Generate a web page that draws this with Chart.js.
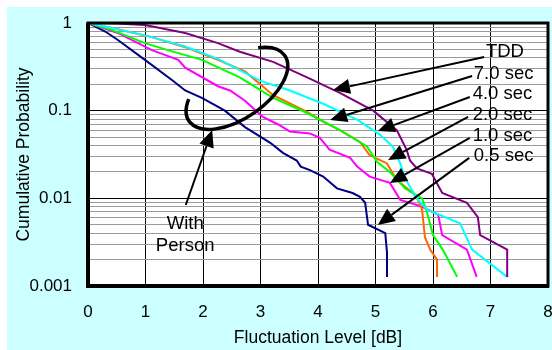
<!DOCTYPE html>
<html>
<head>
<meta charset="utf-8">
<script src="https://cdn.jsdelivr.net/npm/chart.js@4.4.1/dist/chart.umd.min.js"></script>
<style>
  html, body { margin: 0; padding: 0; background: #fff; }
  canvas { display: block; }
</style>
</head>
<body>
<canvas id="chart" width="552" height="350"></canvas>
<script>
// Curve data (x = fluctuation level dB, y = cumulative probability)
const tddX = [0, 0.5, 0.99, 1.69, 2.26, 2.64, 3.22, 3.81, 4.38, 4.96, 5.37, 5.43, 5.54, 5.6, 5.72, 5.98, 6.16, 6.59, 6.78, 6.82, 7.29, 7.29];
const tddY = [1, 0.99, 0.95, 0.77, 0.59, 0.47, 0.36, 0.24, 0.16, 0.10, 0.06, 0.05, 0.036, 0.027, 0.022, 0.019, 0.0115, 0.0089, 0.0061, 0.0038, 0.0026, 0.00127];

const sec7X = [0, 0.52, 1.11, 1.69, 2.26, 2.64, 2.99, 3.51, 4.09, 4.68, 5.08, 5.3, 5.43, 5.51, 5.63, 5.75, 5.9, 6.47, 6.68, 7.29];
const sec7Y = [1, 0.85, 0.69, 0.54, 0.39, 0.29, 0.22, 0.17, 0.12, 0.079, 0.053, 0.039, 0.025, 0.017, 0.0125, 0.0095, 0.0074, 0.0052, 0.0026, 0.00127];

const sec4X = [0, 0.52, 1.11, 1.69, 2.26, 2.73, 3.22, 3.81, 4.09, 4.38, 4.73, 4.9, 5.2, 5.37, 5.65, 5.74, 5.81, 5.86, 5.95, 6.07, 6.07];
const sec4Y = [1, 0.85, 0.69, 0.53, 0.38, 0.28, 0.15, 0.097, 0.075, 0.06, 0.044, 0.031, 0.025, 0.0162, 0.0115, 0.0096, 0.0074, 0.0036, 0.0026, 0.002, 0.00127];

const sec2X = [0, 0.42, 0.99, 1.39, 1.98, 2.64, 2.73, 3.22, 3.81, 4.38, 4.85, 5.03, 5.25, 5.43, 5.51, 5.81, 5.9, 6.0, 6.17, 6.42];
const sec2Y = [1, 0.83, 0.59, 0.49, 0.38, 0.24, 0.22, 0.14, 0.094, 0.06, 0.039, 0.026, 0.02, 0.015, 0.013, 0.01, 0.0068, 0.0038, 0.0026, 0.00127];

const sec1X = [0, 0.52, 1.11, 1.57, 1.69, 2.26, 2.47, 2.73, 3.04, 3.3, 3.51, 3.86, 4.03, 4.09, 4.2, 4.56, 4.68, 4.9, 5.25, 5.43, 5.72, 5.83, 6.09, 6.16, 6.59, 6.76];
const sec1Y = [1, 0.77, 0.49, 0.38, 0.31, 0.19, 0.17, 0.13, 0.085, 0.07, 0.058, 0.055, 0.049, 0.044, 0.036, 0.029, 0.023, 0.0177, 0.015, 0.0096, 0.0084, 0.0079, 0.0065, 0.0038, 0.0026, 0.00127];

const sec05X = [0, 0.3, 0.52, 0.99, 1.46, 1.69, 1.98, 2.38, 2.73, 3.17, 3.39, 3.63, 3.7, 3.86, 4.09, 4.33, 4.6, 4.73, 4.82, 4.87, 5.17, 5.2, 5.2];
const sec05Y = [1, 0.8, 0.64, 0.38, 0.224, 0.17, 0.14, 0.10, 0.065, 0.043, 0.033, 0.027, 0.023, 0.021, 0.0177, 0.013, 0.0115, 0.0104, 0.0089, 0.005, 0.004, 0.0024, 0.00127];

const xTicks = [0, 1, 2, 3, 4, 5, 6, 7, 8];
const yDecades = [1, 0.1, 0.01, 0.001];

// Annotation labels and arrows (data coordinates)
const labelText = ['TDD', '7.0 sec', '4.0 sec', '2.0 sec', '1.0 sec', '0.5 sec'];
const labelX = [6.92, 6.71, 6.69, 6.69, 6.69, 6.71];
const labelY = [0.467, 0.265, 0.155, 0.0893, 0.0515, 0.0304];
const arrowFrom = [[6.89, 0.409], [6.68, 0.249], [6.64, 0.143], [6.61, 0.0848], [6.64, 0.0489], [6.63, 0.0289], [1.70, 0.0084]];
const arrowTo = [[4.26, 0.172], [4.21, 0.0783], [5.04, 0.0587], [5.22, 0.0274], [5.25, 0.015], [5.04, 0.00497], [2.16, 0.0603]];

function pts(xs, ys) {
    return xs.map((x, i) => ({ x: x, y: ys[i] }));
}

function series(label, xs, ys, color) {
    return {
        label: label,
        data: pts(xs, ys),
        borderColor: color,
        backgroundColor: color,
        borderWidth: 2,
        pointRadius: 0,
        tension: 0,
        fill: false
    };
}

const FONT = '"Liberation Sans", Arial, sans-serif';

// Background panel and white plot area
const backdrop = {
    id: 'backdrop',
    beforeDraw(chart) {
        const ctx = chart.ctx;
        const a = chart.chartArea;
        ctx.save();
        ctx.fillStyle = '#ffffff';
        ctx.fillRect(0, 0, chart.width, chart.height);
        ctx.fillStyle = '#ccffff';
        ctx.fillRect(7, 7, chart.width - 7, chart.height - 7);
        ctx.fillStyle = '#ffffff';
        ctx.fillRect(a.left, a.top, a.right - a.left, a.bottom - a.top);
        ctx.restore();
    }
};

function arrow(ctx, x1, y1, x2, y2) {
    const ang = Math.atan2(y2 - y1, x2 - x1);
    const len = 17, half = 7.5;
    const bx = x2 - len * Math.cos(ang), by = y2 - len * Math.sin(ang);
    ctx.beginPath();
    ctx.moveTo(x1, y1);
    ctx.lineTo(bx, by);
    ctx.stroke();
    ctx.beginPath();
    ctx.moveTo(x2, y2);
    ctx.lineTo(bx + half * Math.sin(ang), by - half * Math.cos(ang));
    ctx.lineTo(bx - half * Math.sin(ang), by + half * Math.cos(ang));
    ctx.closePath();
    ctx.fill();
}

// Frame, arrows, ellipse and texts
const notes = {
    id: 'notes',
    afterDraw(chart) {
        const ctx = chart.ctx;
        const a = chart.chartArea;
        const sx = chart.scales.x, sy = chart.scales.y;
        ctx.save();
        ctx.strokeStyle = '#000';
        ctx.fillStyle = '#000';

        // plot frame
        ctx.lineWidth = 3;
        ctx.strokeRect(a.left, a.top, a.right - a.left, a.bottom - a.top);
        ctx.lineWidth = 4;
        ctx.beginPath();
        ctx.moveTo(a.left, a.top);
        ctx.lineTo(a.left, a.bottom);
        ctx.lineTo(a.right + 1, a.bottom);
        ctx.stroke();

        // "with person" ellipse
        ctx.lineWidth = 3.5;
        ctx.beginPath();
        ctx.ellipse(sx.getPixelForValue(2.59), sy.getPixelForValue(0.18), 58, 30, -0.6, -0.8, 3.8);
        ctx.stroke();

        // arrows
        ctx.lineWidth = 2;
        arrowFrom.forEach((f, i) => {
            const t = arrowTo[i];
            arrow(ctx, sx.getPixelForValue(f[0]), sy.getPixelForValue(f[1]),
                sx.getPixelForValue(t[0]), sy.getPixelForValue(t[1]));
        });

        // texts
        ctx.font = '18.5px ' + FONT;
        ctx.textBaseline = 'middle';
        ctx.textAlign = 'left';
        labelText.forEach((s, i) => {
            ctx.fillText(s, sx.getPixelForValue(labelX[i]), sy.getPixelForValue(labelY[i]));
        });
        ctx.textAlign = 'center';
        ctx.fillText('With', sx.getPixelForValue(1.69), sy.getPixelForValue(0.00517));
        ctx.fillText('Person', sx.getPixelForValue(1.69), sy.getPixelForValue(0.00283));
        ctx.restore();
    }
};

const isDecade = v => Math.abs(Math.log10(v) - Math.round(Math.log10(v))) < 1e-6;

new Chart(document.getElementById('chart').getContext('2d'), {
    type: 'line',
    data: {
        datasets: [
            series('TDD', tddX, tddY, '#800080'),
            series('7.0 sec', sec7X, sec7Y, '#00ffff'),
            series('2.0 sec', sec2X, sec2Y, '#00ff00'),
            series('4.0 sec', sec4X, sec4Y, '#ff6600'),
            series('1.0 sec', sec1X, sec1Y, '#ff00ff'),
            series('0.5 sec', sec05X, sec05Y, '#000080')
        ]
    },
    options: {
        responsive: false,
        animation: false,
        layout: { padding: { left: 0, top: 23, right: 4, bottom: 0 } },
        plugins: {
            legend: { display: false },
            tooltip: { enabled: false }
        },
        scales: {
            x: {
                type: 'linear',
                min: 0,
                max: 8,
                afterBuildTicks: s => { s.ticks = xTicks.map(v => ({ value: v })); },
                afterFit: s => { s.height = 64; s.paddingLeft = 0; s.paddingRight = 0; },
                ticks: { color: '#000', padding: 16, font: { size: 17, family: FONT } },
                grid: { color: '#000', lineWidth: 1, drawTicks: false },
                border: { display: false },
                title: {
                    display: true,
                    text: 'Fluctuation Level [dB]',
                    color: '#000',
                    font: { size: 17.5, family: FONT },
                    padding: { top: 0, bottom: 1 }
                }
            },
            y: {
                type: 'logarithmic',
                min: 0.001,
                max: 1,
                afterBuildTicks: s => {
                    const t = [];
                    yDecades.slice(1).forEach(d => {
                        for (let k = 1; k <= 9; k++) t.push({ value: d * k });
                    });
                    t.push({ value: 1 });
                    s.ticks = t;
                },
                afterFit: s => { s.width = 88; s.paddingTop = 0; s.paddingBottom = 0; },
                ticks: {
                    color: '#000',
                    padding: 16,
                    font: { size: 17, family: FONT },
                    autoSkip: false,
                    callback: v => (isDecade(v) ? String(yDecades.find(d => Math.abs(d - v) < d * 1e-6)) : '')
                },
                grid: {
                    drawTicks: false,
                    lineWidth: 1,
                    color: c => (isDecade(c.tick.value) ? '#000' : '#9a9a9a')
                },
                border: { display: false },
                title: {
                    display: true,
                    text: 'Cumulative Probability',
                    color: '#000',
                    font: { size: 17.5, family: FONT },
                    padding: { top: 14, bottom: 0 }
                }
            }
        }
    },
    plugins: [backdrop, notes]
});
</script>
</body>
</html>
